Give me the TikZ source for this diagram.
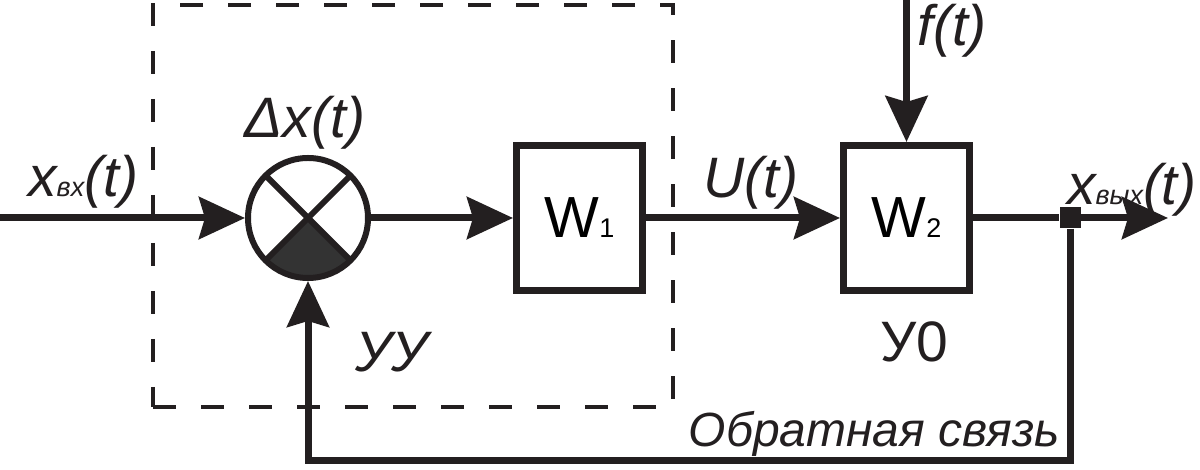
\documentclass[tikz,border=0pt]{standalone}
\usepackage{fontspec}
\setmainfont{Liberation Sans}
\usetikzlibrary{arrows.meta}
\definecolor{ink}{RGB}{35,31,32}
\definecolor{quadgray}{RGB}{51,51,51}
\newcommand{\sml}[1]{{\fontsize{27}{27}\selectfont #1}}
\newcommand{\idx}[1]{{\fontsize{27}{27}\selectfont #1}}
\begin{document}
\begin{tikzpicture}[x=1pt,y=1pt,
		sig/.style={ink,line width=7pt,-{Stealth[length=46pt,width=42pt,inset=6pt]}},
		wire/.style={ink,line width=7pt},
		block/.style={draw=ink,line width=7pt,minimum width=126pt,minimum height=145pt,inner sep=0pt,font=\fontsize{58}{60}\selectfont},
		lbl/.style={inner sep=0pt,anchor=base west,text=ink,font=\fontsize{57}{60}\selectfont\itshape}]
		\useasboundingbox (0,0) rectangle (1200,470);
		\node[draw=ink,line width=4pt,dash pattern=on 23pt off 25pt,minimum width=520pt,minimum height=402pt,inner sep=0pt] (uu) at (413,264) {};
		\coordinate (sc) at (308,252);
		\fill[quadgray] (sc) -- ++(-135:60) arc[start angle=-135,end angle=-45,radius=60] -- cycle;
		\draw[ink,line width=6pt] (sc) -- ++(45:60) (sc) -- ++(135:60) (sc) -- ++(-45:60) (sc) -- ++(-135:60);
		\node[draw=ink,line width=6pt,circle,minimum size=120pt,inner sep=0pt] (sum) at (sc) {};
		\node[block] (w1) at (579.5,252) {W\idx{1}};
		\node[block] (w2) at (906.5,252) {W\idx{2}};
		\node[fill=ink,minimum size=21pt,inner sep=0pt] (jn) at (1070,252) {};
		\coordinate (in) at (0,252);
		\coordinate (out) at (1168,252);
		\coordinate (ftop) at (906.5,470);
		\coordinate (fb) at (1070,9);
		\draw[sig] (in) -- (sum);
		\draw[sig] (sum) -- (w1);
		\draw[sig] (w1) -- (w2);
		\draw[sig] (ftop) -- (w2);
		\draw[wire] (w2) -- (jn);
		\draw[sig] (jn) -- (out);
		\draw[sig] (jn.south) -- (fb) -| (sum.south);
		\node[lbl] (xin) at (28,273) {x\sml{вх}(t)};
		\node[lbl,anchor=base] (dx) at (305,332) {Δx(t)};
		\node[lbl] (ut) at (703,272) {U(t)};
		\node[lbl] (ft) at (917,424) {f(t)};
		\node[lbl,anchor=base east] (xout) at (1197,265) {x\sml{вых}(t)};
		\node[lbl] (uulbl) at (355,98) {УУ};
		\node[lbl,font=\fontsize{57}{60}\selectfont] (uo) at (880,108) {У0};
		\node[lbl,anchor=base east,font=\fontsize{48}{52}\selectfont\itshape] (fbl) at (1060,23) {Обратная связь};
	\end{tikzpicture}
\end{document}
